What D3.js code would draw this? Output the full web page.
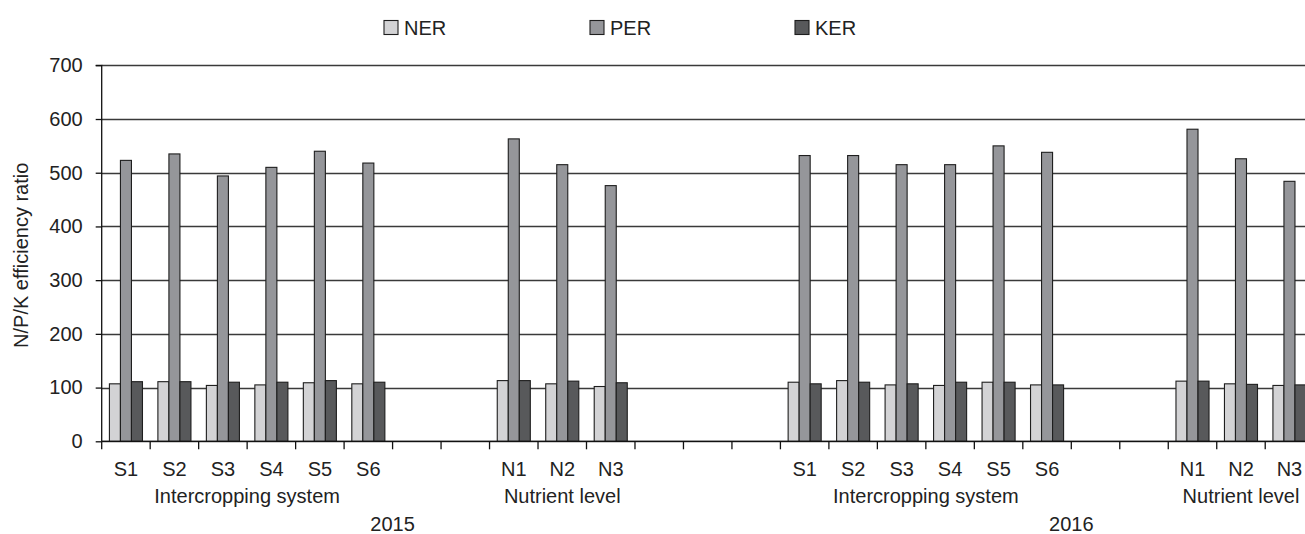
<!DOCTYPE html>
<html>
<head>
<meta charset="utf-8">
<script src="https://cdn.jsdelivr.net/npm/d3@7"></script>
<style>
  html, body { margin: 0; padding: 0; background: #fff; }
  svg { display: block; }
  text { font-family: "Liberation Sans", Arial, Helvetica, sans-serif; fill: #222; }
</style>
</head>
<body>
<svg id="chart" width="1305" height="534"></svg>
<script>
// ---- data ----
const categories = ["S1","S2","S3","S4","S5","S6","","","N1","N2","N3","","","",
                    "S1","S2","S3","S4","S5","S6","","","N1","N2","N3"];
const seriesNames = ["NER","PER","KER"];
const nerValues = [107,111,104,105,109,107,null,null,113,107,102,null,null,null,
                   110,113,105,104,110,105,null,null,112,107,104];
const perValues = [523,535,494,510,540,518,null,null,563,515,476,null,null,null,
                   532,532,515,515,550,538,null,null,581,526,484];
const kerValues = [111,111,110,110,113,110,null,null,113,112,109,null,null,null,
                   107,110,107,110,110,105,null,null,112,106,105];
const yTickValues = [0,100,200,300,400,500,600,700];
const groupLabels = ["Intercropping system","Nutrient level","Intercropping system","Nutrient level"];
const groupSpans = [[0,6],[8,11],[14,20],[22,25]];   // category index ranges
const yearLabels = ["2015","2016"];
const yearCenters = [6,20];                           // category boundary index
const yTitle = "N/P/K efficiency ratio";

// ---- style ----
const colors = {NER:"#d3d3d5", PER:"#95969a", KER:"#58595b"};
const W = 1305, H = 534;
const plotLeft = 101.7, step = 48.48, plotTop = 65.3, plotBottom = 441.3;
const FS = 20;

const svg = d3.select("#chart");

const x = d3.scaleBand().domain(d3.range(categories.length))
  .range([plotLeft, plotLeft + step * categories.length]).paddingInner(0).paddingOuter(0);
const xi = d3.scaleBand().domain(seriesNames).range([0, x.bandwidth()])
  .paddingInner(0).paddingOuter(0.7);
const y = d3.scaleLinear().domain([0,700]).range([plotBottom, plotTop]);

// gridlines
svg.append("g").selectAll("line").data(yTickValues).join("line")
  .attr("x1", plotLeft).attr("x2", W)
  .attr("y1", d => Math.round(y(d)) + 0.5).attr("y2", d => Math.round(y(d)) + 0.5)
  .attr("stroke", "#3a3a3a").attr("stroke-width", 1.3);

// y axis
const yAxis = d3.axisLeft(y).tickValues(yTickValues).tickSize(6).tickPadding(13);
const gy = svg.append("g").attr("transform", `translate(${plotLeft},0)`).call(yAxis);
gy.select(".domain").attr("stroke", "#111").attr("stroke-width", 1.3).attr("d", `M-6,${y(700)}H0V${y(0)}`);
gy.selectAll(".tick line").attr("stroke", "#111").attr("stroke-width", 1.3);
gy.selectAll(".tick text").attr("font-size", FS).attr("fill", "#222")
  .attr("font-family", "'Liberation Sans', Arial, sans-serif");

// bars
const seriesData = [nerValues, perValues, kerValues];
seriesNames.forEach((name, si) => {
  svg.append("g").selectAll("rect")
    .data(seriesData[si].map((v, i) => ({i, v})).filter(d => d.v != null))
    .join("rect")
    .attr("x", d => x(d.i) + xi(name))
    .attr("width", xi.bandwidth())
    .attr("y", d => y(d.v))
    .attr("height", d => y(0) - y(d.v))
    .attr("fill", colors[name])
    .attr("stroke", "#1e1e1e").attr("stroke-width", 1.1);
});

// x axis line and boundary ticks
const xEnd = x.range()[1];
svg.append("line").attr("x1", plotLeft).attr("x2", W).attr("y1", y(0)).attr("y2", y(0))
  .attr("stroke", "#111").attr("stroke-width", 1.3);
svg.append("g").selectAll("line").data(d3.range(categories.length + 1)).join("line")
  .attr("x1", d => (d < categories.length ? x(d) : xEnd))
  .attr("x2", d => (d < categories.length ? x(d) : xEnd))
  .attr("y1", y(0)).attr("y2", y(0) + 8)
  .attr("stroke", "#111").attr("stroke-width", 1.3);

// category labels
svg.append("g").selectAll("text").data(categories.map((c, i) => ({c, i}))).join("text")
  .attr("x", d => x(d.i) + x.bandwidth() / 2)
  .attr("y", 476)
  .attr("text-anchor", "middle").attr("font-size", FS)
  .text(d => d.c);

// group labels
svg.append("g").selectAll("text").data(groupLabels.map((g, k) => ({g, k}))).join("text")
  .attr("x", d => plotLeft + step * (groupSpans[d.k][0] + groupSpans[d.k][1]) / 2)
  .attr("y", 503)
  .attr("text-anchor", "middle").attr("font-size", FS)
  .text(d => d.g);

// year labels
svg.append("g").selectAll("text").data(yearLabels.map((t, k) => ({t, k}))).join("text")
  .attr("x", d => plotLeft + step * yearCenters[d.k])
  .attr("y", 531)
  .attr("text-anchor", "middle").attr("font-size", FS)
  .text(d => d.t);

// y title
svg.append("text")
  .attr("transform", `translate(28,${(plotTop + plotBottom) / 2 + 2}) rotate(-90)`)
  .attr("text-anchor", "middle").attr("font-size", FS)
  .text(yTitle);

// legend
const legendX = [384, 590, 795];
const lg = svg.append("g");
seriesNames.forEach((name, k) => {
  lg.append("rect").attr("x", legendX[k]).attr("y", 20.5).attr("width", 14).attr("height", 14)
    .attr("fill", colors[name]).attr("stroke", "#1e1e1e").attr("stroke-width", 1.1);
  lg.append("text").attr("x", legendX[k] + 20).attr("y", 34.5)
    .attr("font-size", FS).text(name);
});
</script>
</body>
</html>
